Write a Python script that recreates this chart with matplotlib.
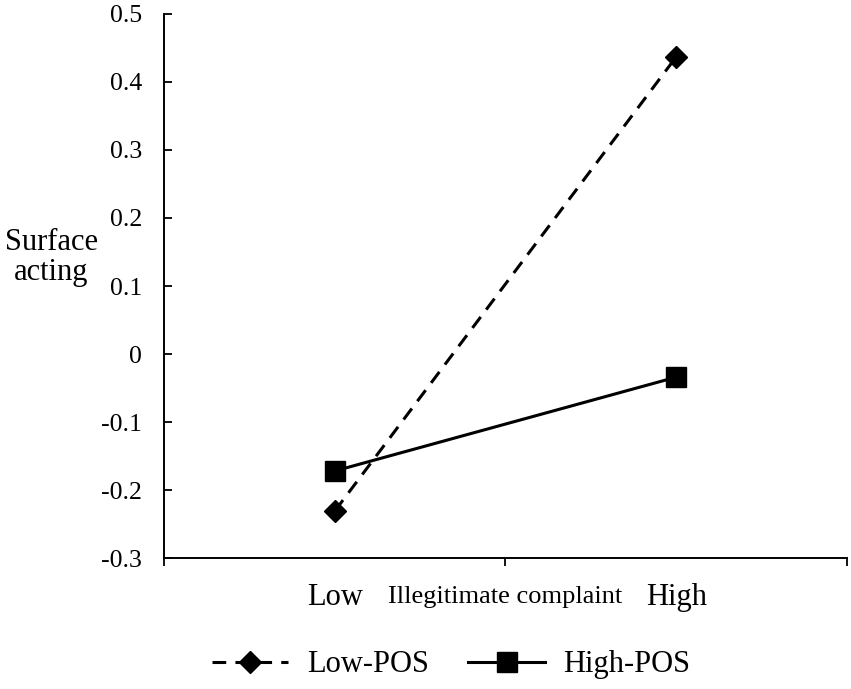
import matplotlib
matplotlib.use("Agg")
import matplotlib.pyplot as plt

plt.rcParams['font.family'] = ['Liberation Serif', 'DejaVu Serif']

# data
x_pos = [0.25, 0.75]
x_labels = ['Low', 'High']
low_pos = [-0.231, 0.437]
high_pos = [-0.172, -0.034]
y_ticks = [-0.3, -0.2, -0.1, 0, 0.1, 0.2, 0.3, 0.4, 0.5]
y_ticklabels = ['-0.3', '-0.2', '-0.1', '0', '0.1', '0.2', '0.3', '0.4', '0.5']

fig = plt.figure(figsize=(8.51, 6.89), dpi=100)
ax = fig.add_axes([0.1927, 0.1901, 0.8026, 0.7896])

l1, = ax.plot(x_pos, low_pos, color='black', lw=2.2, ls=(0, (4.5, 3)),
              marker='D', markersize=11, label='Low-POS')
l2, = ax.plot(x_pos, high_pos, color='black', lw=2.2, ls='-',
              marker='s', markersize=14, label='High-POS')

ax.set_xlim(0, 1)
ax.set_ylim(-0.3, 0.5)
ax.set_yticks(y_ticks)
ax.set_yticklabels(y_ticklabels, fontsize=18.5)
ax.set_xticks([0, 0.5, 1.0])
ax.set_xticklabels([])
ax.tick_params(axis='y', direction='in', length=6, width=1.3, pad=16)
ax.tick_params(axis='x', direction='out', length=6, width=1.3)
ax.spines['top'].set_visible(False)
ax.spines['right'].set_visible(False)
for s in ['left', 'bottom']:
    ax.spines[s].set_linewidth(1.4)

for xp, lab in zip(x_pos, x_labels):
    ax.text(xp, -0.072, lab, transform=ax.get_xaxis_transform(),
            ha='center', va='center', fontsize=22)
ax.text(0.5, -0.072, 'Illegitimate complaint', transform=ax.get_xaxis_transform(),
        ha='center', va='center', fontsize=19)

fig.text(0.060, 0.626, 'Surface\nacting', ha='center', va='center',
         fontsize=22, linespacing=1.05)

fig.legend(handles=[l1, l2], loc='center', bbox_to_anchor=(0.53, 0.035),
           ncol=2, frameon=False, fontsize=22, handlelength=2.5,
           columnspacing=1.3, handletextpad=0.6)

fig.savefig('out.png', dpi=100)
